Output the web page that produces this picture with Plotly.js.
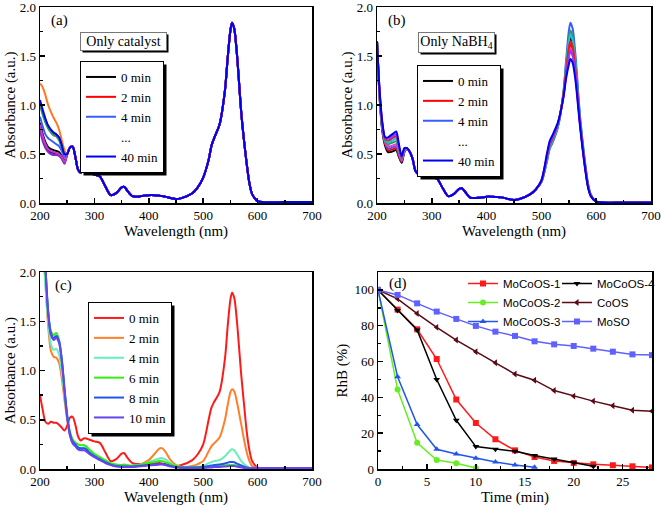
<!DOCTYPE html>
<html><head><meta charset="utf-8">
<script src="https://cdn.plot.ly/plotly-3.0.1.min.js"></script>
<style>html,body{margin:0;padding:0;background:#fff}</style>
</head><body>
<div id="chart" style="width:661px;height:507px"></div>
<script>
// ---------- shared wavelength grid (nm) ----------
const wavelength = [200,205,210,215,220,225,230,235,240,245,
  250,255,260,265,270,275,280,285,290,300,
  310,320,330,340,350,355,360,370,380,390,
  400,410,420,425,430,440,450,460,480,490,
  500,510,515,520,530,540,545,550,553,557,
  562,570,575,580,585,590,600,650,700];

// ---------- panel (a): only catalyst ----------
const aNames  = ['0 min','2 min','4 min','6 min','8 min','10 min','20 min','30 min','40 min'];
const aLegend = [true, true, true, false, false, false, false, false, true];
const aColors = ['#000000','#ff0000','#3a5cff','#ff7722','#229966','#000080','#7b2fbe','#cc33cc','#0000ee'];
// 200..245 nm part of each spectrum
const aHeads = [
  [0.82,0.70,0.62,0.57,0.55,0.54,0.53,0.52,0.48,0.43],
  [1.02,0.92,0.85,0.78,0.74,0.71,0.70,0.66,0.58,0.50],
  [0.88,0.78,0.70,0.66,0.64,0.62,0.60,0.58,0.53,0.47],
  [1.22,1.18,1.10,1.00,0.93,0.87,0.82,0.75,0.64,0.54],
  [1.00,0.90,0.82,0.76,0.72,0.69,0.68,0.64,0.56,0.50],
  [0.78,0.66,0.58,0.54,0.52,0.51,0.50,0.49,0.46,0.41],
  [0.74,0.63,0.56,0.52,0.50,0.49,0.49,0.48,0.45,0.40],
  [0.80,0.68,0.60,0.55,0.53,0.52,0.51,0.50,0.47,0.42],
  [1.05,0.95,0.86,0.79,0.75,0.72,0.70,0.67,0.59,0.50]
];
// 250..700 nm part, common to all spectra of panel (a)
const aTail = [0.50,0.565,0.575,0.47,0.34,0.31,0.33,0.335,0.31,0.29,
  0.27,0.17,0.08,0.10,0.16,0.165,0.13,0.07,0.065,0.075,
  0.08,0.08,0.075,0.07,0.065,0.05,0.04,0.05,0.10,0.16,
  0.26,0.44,0.58,0.66,0.80,1.15,1.48,1.76,1.84,1.78,
  1.52,0.92,0.64,0.40,0.20,0.09,0.02,0.01,0.01];

// ---------- panel (b): only NaBH4 ----------
const bNames  = ['0 min','2 min','4 min','6 min','8 min','10 min','20 min','30 min','40 min'];
const bLegend = [true, true, true, false, false, false, false, false, true];
const bColors = ['#000000','#ff0000','#3a5cff','#ff33cc','#2e9e5e','#22bbdd','#dd2222','#9933ff','#0000ee'];
// 200..260 nm
const bHeads = [
  [1.65,1.05,0.72,0.58,0.52,0.52,0.53,0.54,0.47,0.41,0.52,0.55,0.52],
  [1.65,1.06,0.74,0.60,0.54,0.54,0.55,0.56,0.48,0.42,0.52,0.55,0.52],
  [1.65,1.07,0.75,0.61,0.56,0.56,0.57,0.58,0.50,0.43,0.53,0.55,0.52],
  [1.65,1.08,0.76,0.62,0.58,0.58,0.59,0.60,0.51,0.44,0.53,0.55,0.52],
  [1.65,1.09,0.77,0.63,0.60,0.61,0.62,0.63,0.53,0.45,0.54,0.555,0.52],
  [1.65,1.10,0.78,0.64,0.62,0.63,0.645,0.66,0.55,0.46,0.54,0.555,0.52],
  [1.65,1.11,0.79,0.65,0.64,0.65,0.67,0.68,0.57,0.46,0.55,0.56,0.52],
  [1.65,1.12,0.80,0.66,0.66,0.67,0.69,0.70,0.58,0.47,0.55,0.56,0.52],
  [1.65,1.13,0.81,0.67,0.67,0.69,0.71,0.73,0.60,0.48,0.56,0.56,0.52]
];
// 265..490 nm, common
const bMid = [0.45,0.33,0.30,0.31,0.31,0.29,0.27,0.245,0.15,0.07,
  0.09,0.145,0.15,0.12,0.055,0.05,0.055,0.065,0.065,0.06,
  0.058,0.055,0.04,0.03,0.04,0.09,0.14];
// 500..700 nm
const bEnds = [
  [0.22,0.45,0.58,0.64,0.79,1.10,1.36,1.60,1.68,1.62,1.40,0.86,0.60,0.37,0.18,0.08,0.015,0.005,0.005],
  [0.22,0.46,0.59,0.65,0.79,1.09,1.33,1.55,1.62,1.57,1.36,0.85,0.59,0.36,0.18,0.08,0.015,0.005,0.005],
  [0.21,0.42,0.55,0.61,0.77,1.12,1.45,1.75,1.84,1.78,1.52,0.92,0.64,0.40,0.20,0.09,0.015,0.005,0.005],
  [0.22,0.47,0.60,0.66,0.80,1.09,1.31,1.51,1.58,1.53,1.33,0.84,0.58,0.36,0.17,0.08,0.015,0.005,0.005],
  [0.21,0.43,0.56,0.62,0.78,1.11,1.41,1.67,1.76,1.70,1.46,0.89,0.62,0.38,0.19,0.085,0.015,0.005,0.005],
  [0.22,0.44,0.57,0.63,0.78,1.10,1.39,1.64,1.72,1.66,1.43,0.88,0.61,0.38,0.18,0.08,0.015,0.005,0.005],
  [0.22,0.46,0.59,0.65,0.80,1.10,1.35,1.58,1.65,1.60,1.38,0.86,0.60,0.37,0.18,0.08,0.015,0.005,0.005],
  [0.23,0.48,0.61,0.67,0.81,1.08,1.30,1.48,1.55,1.50,1.31,0.83,0.57,0.35,0.17,0.075,0.015,0.005,0.005],
  [0.23,0.50,0.63,0.69,0.82,1.07,1.27,1.41,1.47,1.43,1.26,0.81,0.56,0.34,0.16,0.07,0.015,0.005,0.005]
];

// ---------- panel (c): catalyst + NaBH4 ----------
const cNames  = ['0 min','2 min','4 min','6 min','8 min','10 min'];
const cColors = ['#ff1a1a','#ff7f2a','#66eebb','#33ee11','#2255ee','#6644ee'];
const c0min = [0.75,0.60,0.48,0.46,0.48,0.47,0.47,0.45,0.42,0.39,
  0.44,0.52,0.53,0.45,0.33,0.29,0.31,0.31,0.30,0.28,
  0.265,0.17,0.08,0.10,0.155,0.16,0.12,0.06,0.05,0.05,
  0.055,0.06,0.06,0.055,0.05,0.04,0.03,0.04,0.09,0.15,
  0.25,0.50,0.62,0.68,0.78,1.12,1.45,1.72,1.79,1.74,
  1.50,0.95,0.66,0.38,0.19,0.08,0.015,0.01,0.01];
const c2min = [2.7,2.35,1.9,1.45,1.2,1.14,1.13,1.08,0.92,0.70,
  0.50,0.35,0.27,0.24,0.21,0.20,0.21,0.20,0.17,0.14,
  0.11,0.08,0.05,0.04,0.04,0.045,0.04,0.03,0.04,0.06,
  0.09,0.15,0.21,0.21,0.18,0.09,0.04,0.02,0.03,0.05,
  0.08,0.18,0.23,0.26,0.32,0.50,0.65,0.78,0.81,0.79,
  0.68,0.45,0.30,0.17,0.08,0.03,0.01,0.01,0.01];
const c4min = [2.6,2.25,1.85,1.5,1.27,1.21,1.22,1.16,0.98,0.75,
  0.52,0.36,0.28,0.25,0.22,0.21,0.22,0.21,0.18,0.14,
  0.11,0.08,0.05,0.04,0.035,0.035,0.035,0.03,0.035,0.05,
  0.07,0.09,0.11,0.11,0.10,0.06,0.03,0.02,0.02,0.025,
  0.03,0.06,0.07,0.08,0.09,0.13,0.16,0.19,0.20,0.19,
  0.15,0.08,0.05,0.03,0.015,0.01,0.01,0.01,0.01];
const c6min = [2.8,2.45,2.0,1.6,1.40,1.36,1.38,1.31,1.10,0.80,
  0.55,0.38,0.30,0.27,0.25,0.24,0.245,0.23,0.20,0.155,
  0.12,0.09,0.06,0.045,0.04,0.04,0.035,0.035,0.04,0.05,
  0.06,0.07,0.08,0.08,0.07,0.05,0.03,0.02,0.02,0.02,
  0.02,0.025,0.025,0.03,0.03,0.035,0.04,0.04,0.04,0.04,
  0.035,0.025,0.02,0.015,0.01,0.01,0.01,0.01,0.01];
const c8min = [2.9,2.5,2.05,1.6,1.38,1.33,1.35,1.30,1.12,0.82,
  0.54,0.36,0.28,0.25,0.22,0.21,0.21,0.20,0.17,0.13,
  0.10,0.07,0.045,0.03,0.025,0.025,0.025,0.025,0.03,0.035,
  0.04,0.045,0.05,0.05,0.045,0.03,0.02,0.015,0.015,0.015,
  0.02,0.03,0.035,0.04,0.045,0.055,0.065,0.07,0.07,0.068,
  0.055,0.035,0.025,0.015,0.01,0.01,0.01,0.01,0.01];
const c10min = [2.9,2.5,2.05,1.58,1.36,1.31,1.33,1.28,1.10,0.80,
  0.52,0.34,0.26,0.23,0.20,0.19,0.19,0.18,0.155,0.12,
  0.09,0.06,0.04,0.025,0.02,0.02,0.02,0.02,0.025,0.03,
  0.035,0.04,0.045,0.045,0.04,0.025,0.015,0.01,0.01,0.01,
  0.01,0.015,0.015,0.02,0.02,0.025,0.028,0.03,0.03,0.03,
  0.025,0.015,0.01,0.01,0.01,0.01,0.01,0.01,0.01];
const cSeries = [c0min,c2min,c4min,c6min,c8min,c10min];

// ---------- panel (d): RhB remaining vs time ----------
const tFull = [0,2,4,6,8,10,12,14,16,18,20,22,24,26,28];
const tM4   = [0,2,4,6,8,10,12,14,16,18,20,22];
const tM2   = [0,2,4,6,8,10];
const tM3   = [0,2,4,6,8,10,12,14,16];
const rMoCoOS1 = [100,89,78,61.4,38.8,25.7,16.6,10.4,6.7,4.5,3.4,2.6,2.1,1.5,0.9];
const rMoCoOS2 = [100,44.4,14.6,5,3.2,0.5];
const rMoCoOS3 = [100,51.5,24.8,11,8.4,6,3.9,2.2,1];
const rMoCoOS4 = [100,88.5,77.6,50,27.2,12.5,11,9.9,7.6,5.6,3.5,1.5];
const rCoOS    = [100,95,86.8,79.1,72,65.5,59.3,53,49.6,43.8,40.7,37.9,35.3,32.8,32.3];
const rMoSO    = [100,97.2,92.5,87.9,83.8,79.9,76.7,74.3,71.3,69.6,68.7,67.2,65.5,64,63.6];

// ---------- build traces ----------
const serif = 'Liberation Serif';
const sans = 'Liberation Sans';
const traces = [];
function spectrumTrace(x, y, name, color, xa, ya, leg, show, width) {
  return {type:'scatter', mode:'lines', x:x, y:y, name:name, xaxis:xa, yaxis:ya,
    legend:leg, showlegend:show, hoverinfo:'skip',
    line:{color:color, width:width, shape:'spline', smoothing:0.8}};
}
// (a)
for (let i = 0; i < aHeads.length; i++) {
  if (i === aHeads.length - 1) {
    traces.push({type:'scatter', mode:'lines', x:[null], y:[null], name:'...', xaxis:'x', yaxis:'y',
      legend:'legend', showlegend:true, line:{color:'rgba(0,0,0,0)', width:2}});
  }
  traces.push(spectrumTrace(wavelength, aHeads[i].concat(aTail), aNames[i], aColors[i], 'x', 'y', 'legend', aLegend[i], 2));
}
// (b)
for (let i = 0; i < bHeads.length; i++) {
  if (i === bHeads.length - 1) {
    traces.push({type:'scatter', mode:'lines', x:[null], y:[null], name:'...', xaxis:'x2', yaxis:'y2',
      legend:'legend2', showlegend:true, line:{color:'rgba(0,0,0,0)', width:2}});
  }
  traces.push(spectrumTrace(wavelength, bHeads[i].concat(bMid, bEnds[i]), bNames[i], bColors[i], 'x2', 'y2', 'legend2', bLegend[i], 2));
}
// (c)
for (let i = 0; i < cSeries.length; i++) {
  traces.push(spectrumTrace(wavelength, cSeries[i], cNames[i], cColors[i], 'x3', 'y3', 'legend3', true, 2));
}
// (d)
function kinTrace(x, y, name, color, symbol, leg) {
  return {type:'scatter', mode:'lines+markers', x:x, y:y, name:name, xaxis:'x4', yaxis:'y4',
    legend:leg, line:{color:color, width:1.5}, marker:{color:color, symbol:symbol, size:6}};
}
traces.push(kinTrace(tFull, rMoCoOS1, 'MoCoOS-1', '#ff1a1a', 'square', 'legend4'));
traces.push(kinTrace(tM2, rMoCoOS2, 'MoCoOS-2', '#66ee22', 'circle', 'legend4'));
traces.push(kinTrace(tM3, rMoCoOS3, 'MoCoOS-3', '#2255ee', 'triangle-up', 'legend4'));
traces.push(kinTrace(tM4, rMoCoOS4, 'MoCoOS-4', '#000000', 'triangle-down', 'legend5'));
traces.push(kinTrace(tFull, rCoOS, 'CoOS', '#5a0a14', 'triangle-left', 'legend5'));
traces.push(kinTrace(tFull, rMoSO, 'MoSO', '#6060ff', 'square', 'legend5'));

// ---------- layout ----------
const W = 661, H = 507;
const px = v => v / W, py = v => 1 - v / H;
const axBase = {showline:true, linecolor:'#000', linewidth:1.5, mirror:true,
  ticks:'inside', ticklen:5, tickwidth:1.5, tickcolor:'#000', ticklabeloverflow:'allow',
  showgrid:false, zeroline:false, automargin:false, fixedrange:true,
  tickfont:{family:serif, size:13, color:'#000'},
  minor:{ticks:'inside', ticklen:3, tickwidth:1.5, tickcolor:'#000'}};
const titleFont = {family:serif, size:15, color:'#000'};
function xAx(dom, range, dtick, minorDt, title, anchor) {
  return Object.assign({}, axBase, {domain:dom, range:range, dtick:dtick, tick0:range[0], anchor:anchor,
    minor:Object.assign({}, axBase.minor, {dtick:minorDt}),
    title:{text:title, font:titleFont, standoff:2}});
}
function yAx(dom, range, dtick, minorDt, title, anchor, fmt, standoff) {
  return Object.assign({}, axBase, {domain:dom, range:range, dtick:dtick, tick0:0, anchor:anchor,
    tickformat:fmt, minor:Object.assign({}, axBase.minor, {dtick:minorDt}),
    title:{text:title, font:titleFont, standoff:standoff}});
}
const xL = [px(40), px(312)], xR = [px(377), px(651)], xRd = [px(378), px(652)];
const yT = [py(203), py(7)], yB = [py(469), py(272)];

const legBox = {bgcolor:'#fff', bordercolor:'#000', borderwidth:1,
  font:{family:serif, size:13, color:'#000'}, xanchor:'left', yanchor:'top', tracegroupgap:0, itemwidth:30};
const legD = {bgcolor:'rgba(0,0,0,0)', borderwidth:0,
  font:{family:sans, size:11.5, color:'#000'}, xanchor:'left', yanchor:'top', tracegroupgap:0, itemwidth:30};

function label(text, x, y) {
  return {text:text, x:px(x), y:py(y), xref:'paper', yref:'paper', xanchor:'left', yanchor:'middle',
    showarrow:false, borderwidth:0, font:{family:serif, size:15, color:'#000'}};
}
function boxNote(text, x, y, w, h) {
  return {text:text, x:px(x), y:py(y), xref:'paper', yref:'paper', xanchor:'left', yanchor:'top',
    showarrow:false, width:w, height:h, borderpad:1, borderwidth:1, bordercolor:'#777', bgcolor:'#fff',
    font:{family:serif, size:14, color:'#000'}};
}

const layout = {
  width:W, height:H, margin:{l:0, r:0, t:0, b:0},
  paper_bgcolor:'#fff', plot_bgcolor:'#fff', showlegend:true,
  xaxis:  xAx(xL, [200,700], 100, 50, 'Wavelength (nm)', 'y'),
  yaxis:  yAx(yT, [0,2], 0.5, 0.25, 'Absorbance (a.u.)', 'x', '.1f', 0),
  xaxis2: xAx(xR, [200,700], 100, 50, 'Wavelength (nm)', 'y2'),
  yaxis2: yAx(yT, [0,2], 0.5, 0.25, 'Absorbance (a.u.)', 'x2', '.1f', 0),
  xaxis3: xAx(xL, [200,700], 100, 50, 'Wavelength (nm)', 'y3'),
  yaxis3: yAx(yB, [0,2], 0.5, 0.25, 'Absorbance (a.u.)', 'x3', '.1f', 0),
  xaxis4: xAx(xRd, [0,28], 5, 2.5, 'Time (min)', 'y4'),
  yaxis4: yAx(yB, [0,110], 20, 10, 'RhB (%)', 'x4', 'd', 3),
  legend:  Object.assign({}, legBox, {x:px(80), y:py(61)}),
  legend2: Object.assign({}, legBox, {x:px(417), y:py(65)}),
  legend3: Object.assign({}, legBox, {x:px(88), y:py(302)}),
  legend4: Object.assign({}, legD, {x:px(463), y:py(269)}),
  legend5: Object.assign({}, legD, {x:px(557), y:py(269)}),
  annotations: [
    label('(a)', 50, 21), label('(b)', 387, 21), label('(c)', 54, 285), label('(d)', 388, 283),
    boxNote('Only catalyst', 80, 32, 83, 15),
    boxNote('Only NaBH<sub>4</sub>', 418, 32, 73, 17)
  ]
};

const gd = document.getElementById('chart');
Plotly.newPlot(gd, traces, layout, {displayModeBar:false, staticPlot:true}).then(function() {
  // drop shadows behind the bordered boxes (legends and text notes), sized from the drawn boxes
  const o = gd.getBoundingClientRect();
  const shapes = [];
  gd.querySelectorAll('rect.bg').forEach(function(r) {
    const cs = getComputedStyle(r);
    const sw = parseFloat(cs.strokeWidth) || 0;
    const so = cs.strokeOpacity === '' ? 1 : parseFloat(cs.strokeOpacity);
    if (sw <= 0 || !(so > 0) || cs.stroke === 'none') return;
    const b = r.getBoundingClientRect();
    if (b.width < 5 || b.height < 5) return;
    const off = r.closest('.annotation') ? 2 : 3;
    const l = b.left - o.left + off, t = b.top - o.top + off;
    shapes.push({type:'rect', xref:'paper', yref:'paper',
      x0:px(l), x1:px(l + b.width), y0:py(t + b.height), y1:py(t),
      fillcolor:'#000', line:{width:0}, layer:'above'});
  });
  return Plotly.relayout(gd, {shapes: shapes});
});
</script>
</body></html>
